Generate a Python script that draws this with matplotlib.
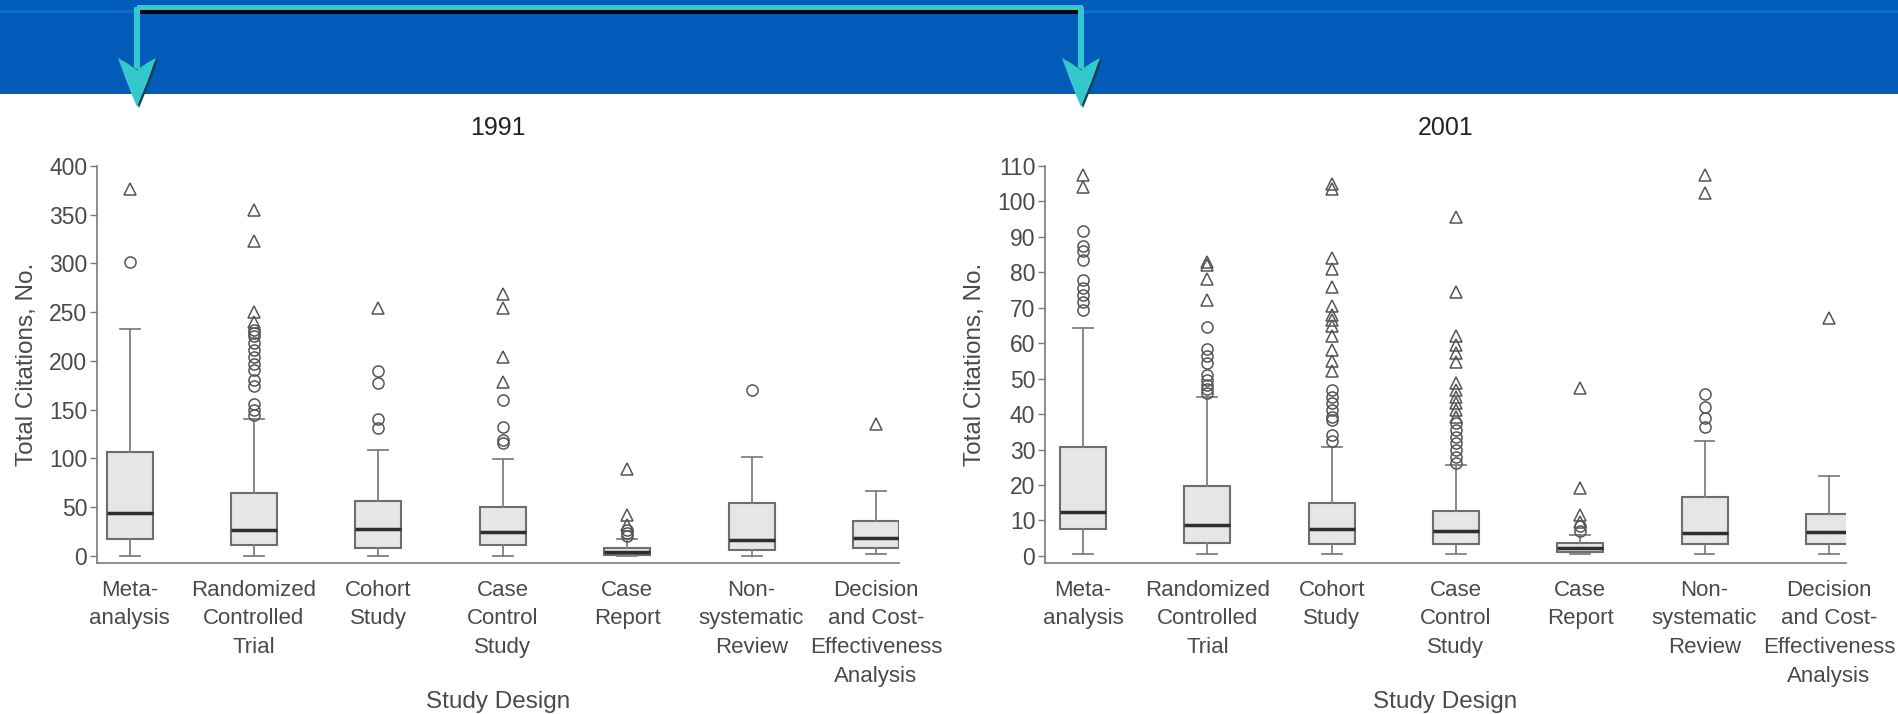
import matplotlib
matplotlib.use('Agg')
import matplotlib.pyplot as plt
from matplotlib.patches import Rectangle, Polygon

plt.rcParams['font.family'] = ['Liberation Sans', 'DejaVu Sans']

designs = ['Meta-\nanalysis', 'Randomized\nControlled\nTrial', 'Cohort\nStudy',
           'Case\nControl\nStudy', 'Case\nReport', 'Non-\nsystematic\nReview',
           'Decision\nand Cost-\nEffectiveness\nAnalysis']

# 1991 citation counts by study design
lo_1991 = [0, 0, 0, 0, 0, 0, 2]
q1_1991 = [17.8, 11.3, 7.9, 11.3, 1, 6.2, 7.9]
med_1991 = [43.8, 26.7, 28, 25, 4, 16.4, 18.1]
q3_1991 = [107, 64.3, 56.4, 50.6, 8, 54, 36.2]
hi_1991 = [232.5, 141, 108.7, 99, 17, 102, 66.7]
circles_1991 = [[302],
                [145, 150, 156, 174, 181, 191, 197, 204, 211, 218, 226, 229, 232],
                [131, 141, 177, 190],
                [115.6, 119, 132.6, 160],
                [20, 24, 27],
                [170],
                []]
triangles_1991 = [[376],
                  [240, 250, 323, 355],
                  [254],
                  [178, 204.5, 254, 268.7],
                  [32, 42, 89],
                  [],
                  [135]]

# 2001 citation counts by study design
lo_2001 = [0.56, 0.56, 0.56, 0.56, 0.5, 0.56, 0.56]
q1_2001 = [7.6, 3.6, 3.4, 3.4, 1.2, 3.3, 3.3]
med_2001 = [12.5, 8.7, 7.6, 6.9, 2.3, 6.6, 6.7]
q3_2001 = [30.8, 19.8, 14.9, 12.7, 3.6, 16.5, 11.8]
hi_2001 = [64.4, 44.8, 30.8, 25.7, 5.9, 32.4, 22.6]
circles_2001 = [[69.5, 71.5, 73.5, 75.5, 77.8, 83.5, 86, 87.5, 91.7],
                [46, 47, 48.2, 49.6, 51, 54.5, 56.5, 58.5, 64.5],
                [32.5, 34, 38.4, 39.3, 41.2, 43.1, 44.9, 46.8],
                [26.1, 28, 29.9, 31.8, 33.6, 35.5, 37.4],
                [6.9, 8.3],
                [36.3, 38.8, 41.9, 45.7],
                []]
triangles_2001 = [[104.2, 107.5],
                  [72.2, 78, 82, 83],
                  [52.3, 55, 58, 62, 65, 66.5, 68, 70.5, 76, 81, 84, 103.5, 105],
                  [39.3, 41.2, 43.1, 44.9, 46.8, 48.7, 54.8, 57.2, 59.5, 61.9, 74.4, 95.7],
                  [9.7, 11.6, 19.1, 47.3],
                  [102.5, 107.5],
                  [67]]

W, H = 1899, 714
fig = plt.figure(figsize=(W / 100, H / 100), dpi=100)

# header band with the bracket arrow
deco = fig.add_axes([0, 0, 1, 1])
deco.set_xlim(0, W)
deco.set_ylim(H, 0)
deco.axis('off')
deco.add_patch(Rectangle((0, 0), W, 94, color='#005cb8', lw=0))
deco.add_patch(Rectangle((0, 10), W, 3, color='#0a6ccc', lw=0))
cyan = '#33c8cc'
deco.add_patch(Rectangle((137, 10), 946, 4, color='black', lw=0))
deco.add_patch(Rectangle((137, 5), 946, 5, color=cyan, lw=0))
for ax_x in (137, 1081):
    deco.add_patch(Rectangle((ax_x - 3, 7), 6, 62, color=cyan, lw=0))
    head = [(-19, 58), (-10, 63), (0, 70), (10, 63), (19, 58),
            (11, 80), (0, 107), (-11, 80)]
    deco.add_patch(Polygon([(ax_x + dx + 2, dy + 1) for dx, dy in head],
                           closed=True, color='#1a3a4a', lw=0))
    deco.add_patch(Polygon([(ax_x + dx, dy) for dx, dy in head],
                           closed=True, color=cyan, lw=0))

text_c = '#4a4a4a'
edge_c = '#6e6e6e'


def draw_panel(rect, year, lo, q1, med, q3, hi, circles, triangles,
               ylim, yticks, xlim):
    ax = fig.add_axes(rect)
    stats = [dict(whislo=a, q1=b, med=c, q3=d, whishi=e, fliers=[])
             for a, b, c, d, e in zip(lo, q1, med, q3, hi)]
    ax.bxp(stats, positions=range(len(stats)), widths=0.37, capwidths=0.16,
           patch_artist=True, showfliers=False,
           boxprops=dict(facecolor='#e5e6e8', edgecolor=edge_c, linewidth=1.5),
           medianprops=dict(color='#2e2e2e', linewidth=2.5),
           whiskerprops=dict(color='#808080', linewidth=1.3),
           capprops=dict(color='#808080', linewidth=1.3))
    for i, vals in enumerate(circles):
        ax.plot([i] * len(vals), vals, 'o', ms=8, mfc='none', mec='#555555',
                mew=1.1, zorder=4)
    for i, vals in enumerate(triangles):
        ax.plot([i] * len(vals), vals, '^', ms=8.5, mfc='none', mec='#555555',
                mew=1.1, zorder=4)
    ax.set_xlim(*xlim)
    ax.set_ylim(*ylim)
    ax.set_yticks(yticks)
    ax.set_xticks(range(len(designs)))
    ax.set_xticklabels(designs, linespacing=1.48)
    for s in ('top', 'right'):
        ax.spines[s].set_visible(False)
    for s in ('left', 'bottom'):
        ax.spines[s].set_color('#7a7a7a')
        ax.spines[s].set_linewidth(1.2)
    ax.tick_params(axis='x', length=0, pad=12, labelsize=16, labelcolor=text_c)
    ax.tick_params(axis='y', length=5, width=1, color='#7a7a7a', pad=2,
                   labelsize=16.5, labelcolor=text_c)
    ax.set_title(year, fontsize=18, color='#222222', pad=22)
    ax.set_xlabel('Study Design', fontsize=17.5, color=text_c, labelpad=3)
    ax.set_ylabel('Total Citations, No.', fontsize=17.5, color=text_c,
                  labelpad=8)
    ax.patch.set_alpha(0)
    return ax


y0 = (H - 563) / H
h = (563 - 166) / H
draw_panel([97 / W, y0, 802 / W, h], '1991',
           lo_1991, q1_1991, med_1991, q3_1991, hi_1991,
           circles_1991, triangles_1991,
           (-7.2, 400), range(0, 401, 50), (-0.262, 6.185))
draw_panel([1045 / W, y0, 801 / W, h], '2001',
           lo_2001, q1_2001, med_2001, q3_2001, hi_2001,
           circles_2001, triangles_2001,
           (-2, 110), range(0, 111, 10), (-0.306, 6.138))

fig.savefig('out.png', dpi=100)
